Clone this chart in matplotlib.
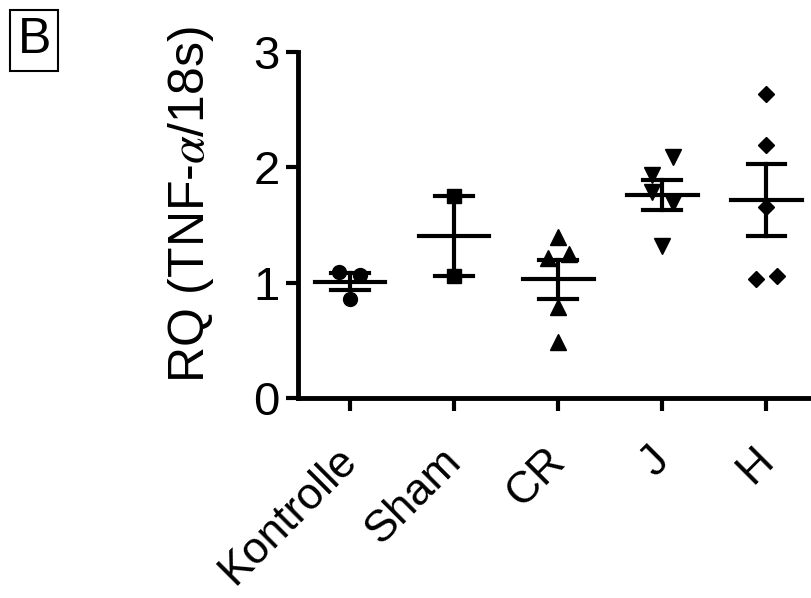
import numpy as np
import matplotlib
matplotlib.use("Agg")
import matplotlib.pyplot as plt

plt.rcParams['font.family'] = ['Liberation Sans', 'DejaVu Sans']
plt.rcParams['mathtext.fontset'] = 'stix'

# --- data (RQ values) ---
groups = ["Kontrolle", "Sham", "CR", "J", "H"]
kontrolle = [1.09, 1.07, 0.86]
sham = [1.75, 1.06]
cr = [1.40, 1.21, 1.25, 0.79, 0.49]
j_vals = [2.09, 1.93, 1.79, 1.69, 1.32]
h_vals = [2.64, 2.19, 1.66, 1.03, 1.06]
# small horizontal jitter used in the original scatter
kontrolle_dx = [-0.11, 0.10, 0.0]
sham_dx = [0.0, 0.0]
cr_dx = [0.0, -0.10, 0.10, 0.0, 0.0]
j_dx = [0.10, -0.10, -0.10, 0.10, 0.0]
h_dx = [0.0, 0.0, 0.0, -0.10, 0.10]

values = [kontrolle, sham, cr, j_vals, h_vals]
offsets = [kontrolle_dx, sham_dx, cr_dx, j_dx, h_dx]
markers = ['o', 's', '^', 'v', 'D']
msizes = [10, 10, 11, 11, 8]

fig = plt.figure(figsize=(8.11, 5.98), dpi=100)
ax = fig.add_axes([0.3675, 0.3344, 0.6325, 0.5786])

for i, (vals, dx, m, ms) in enumerate(zip(values, offsets, markers, msizes)):
    v = np.array(vals)
    x = i + np.array(dx)
    ax.plot(x, v, linestyle='none', marker=m, markersize=ms, color='black', zorder=3)
    mean = v.mean()
    sem = v.std(ddof=1) / np.sqrt(len(v))
    # mean line
    ax.plot([i - 0.34, i + 0.34], [mean, mean], color='black', lw=3, zorder=2)
    # SEM bar
    ax.plot([i, i], [mean - sem, mean + sem], color='black', lw=3, zorder=2)
    for yv in (mean - sem, mean + sem):
        ax.plot([i - 0.18, i + 0.18], [yv, yv], color='black', lw=3, zorder=2)

ax.set_xlim(-0.5, 4.43)
ax.set_ylim(0, 3)
ax.set_yticks([0, 1, 2, 3])
ax.set_xticks(range(len(groups)))
ax.set_xticklabels([])

# rotated group labels, placed a bit below/left of each tick like the original
for i, g in enumerate(groups):
    ax.annotate(g, xy=(i, 0), xycoords=('data', 'axes fraction'),
                xytext=(-10, -30), textcoords='offset points',
                rotation=45, ha='right', va='top', rotation_mode='anchor',
                fontsize=32, annotation_clip=False)

ax.spines['top'].set_visible(False)
ax.spines['right'].set_visible(False)
ax.spines['left'].set_linewidth(3.5)
ax.spines['bottom'].set_linewidth(3.5)
ax.tick_params(axis='both', width=3, length=9, labelsize=34, pad=4)

ax.set_ylabel("RQ (TNF-$\\alpha$/18s)", fontsize=36)
ax.yaxis.set_label_coords(-0.16, 0.56)

fig.text(0.0216, 0.971, "B", fontsize=36, ha='left', va='top',
         bbox=dict(boxstyle='square,pad=0.15', facecolor='white', edgecolor='black', lw=1.5))

fig.savefig("out.png", dpi=100)
